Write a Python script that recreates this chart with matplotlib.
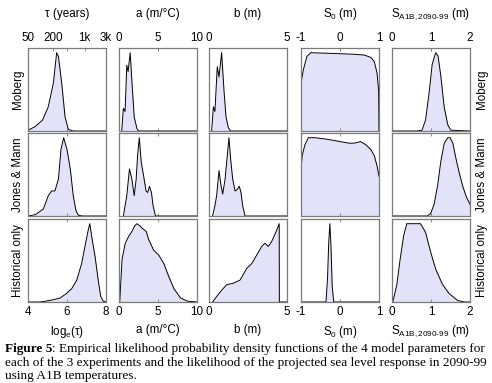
import matplotlib.pyplot as plt

plt.rcParams["font.family"] = ["Liberation Sans", "DejaVu Sans"]
plt.rcParams["mathtext.fontset"] = "custom"
plt.rcParams["mathtext.rm"] = "Liberation Sans"
plt.rcParams["mathtext.it"] = "Liberation Sans"

ROWS = ["Moberg", "Jones & Mann", "Historical only"]
TITLES = ["τ (years)", "a (m/°C)", "b (m)", "S$_0$ (m)",
          r"S$_{\mathrm{A1B,2090}\text{-}\mathrm{99}}$ (m)"]
XLABELS = ["log$_e$(τ)", "a (m/°C)", "b (m)", "S$_0$ (m)",
           r"S$_{\mathrm{A1B,2090}\text{-}\mathrm{99}}$ (m)"]
XLIMS = [(4, 8), (0, 10), (0, 5), (-1, 1), (0, 2)]
BOTTOM_TICKS = [[4, 6, 8], [0, 5, 10], [0, 5], [-1, 0, 1], [0, 1, 2]]
# top axis of the first column is in years (ln 50 ~ 4, ln 3000 ~ 8)
TAU_TOP_TICKS = [4.0, 5.30, 6.91, 8.0]
TAU_TOP_LABELS = ["50", "200", "1k", "3k"]

# --- Moberg ---
TAU_MOB_X = [4.0, 4.36, 4.75, 5.04, 5.30, 5.47, 5.56, 5.73, 5.90, 6.07, 6.32, 8.0]
TAU_MOB_Y = [0.01, 0.055, 0.14, 0.31, 0.61, 1.0, 0.95, 0.61, 0.18, 0.02, 0.0, 0.0]
A_MOB_X = [0.35, 0.56, 0.78, 1.0, 1.17, 1.43, 1.73, 1.95, 2.3, 2.5, 10.0]
A_MOB_Y = [0.0, 0.29, 0.25, 0.84, 0.76, 1.0, 0.52, 0.18, 0.03, 0.0, 0.0]
B_MOB_X = [0.17, 0.28, 0.38, 0.53, 0.64, 0.81, 0.96, 1.09, 1.24, 1.39, 5.0]
B_MOB_Y = [0.0, 0.31, 0.25, 0.82, 0.69, 1.0, 0.52, 0.18, 0.04, 0.0, 0.0]
S0_MOB_X = [-1.0, -0.94, -0.85, -0.75, -0.16, 0.36, 0.62, 0.79, 0.88, 0.95, 0.99, 1.0]
S0_MOB_Y = [0.61, 0.78, 0.95, 1.0, 0.99, 0.98, 0.97, 0.94, 0.885, 0.74, 0.52, 0.0]
SA_MOB_X = [0.0, 0.64, 0.77, 0.86, 0.95, 1.03, 1.12, 1.18, 1.25, 1.34, 1.43, 1.51, 2.0]
SA_MOB_Y = [0.0, 0.0, 0.01, 0.14, 0.48, 0.85, 1.0, 0.96, 0.71, 0.30, 0.08, 0.01, 0.0]

# --- Jones & Mann ---
TAU_JM_X = [4.0, 4.38, 4.79, 5.04, 5.21, 5.38, 5.56, 5.69, 5.83, 6.0, 6.17, 6.32, 6.46, 6.58, 6.8, 8.0]
TAU_JM_Y = [0.0, 0.017, 0.09, 0.26, 0.32, 0.32, 0.47, 0.85, 1.0, 0.85, 0.6, 0.26, 0.07, 0.01, 0.0, 0.0]
A_JM_X = [0.56, 1.0, 1.34, 1.65, 1.95, 2.2, 2.38, 2.6, 2.86, 3.16, 3.46, 3.68, 3.9, 4.16, 4.37, 4.68, 10.0]
A_JM_Y = [0.0, 0.26, 0.6, 0.47, 0.26, 0.47, 0.77, 1.0, 0.68, 0.51, 0.32, 0.30, 0.38, 0.30, 0.13, 0.0, 0.0]
B_JM_X = [0.23, 0.38, 0.49, 0.64, 0.77, 0.88, 1.03, 1.13, 1.28, 1.39, 1.52, 1.67, 1.81, 1.94, 2.05, 2.16, 2.31, 5.0]
B_JM_Y = [0.0, 0.13, 0.26, 0.58, 0.39, 0.28, 0.47, 0.68, 1.0, 0.72, 0.47, 0.32, 0.34, 0.38, 0.30, 0.13, 0.0, 0.0]
S0_JM_X = [-1.0, -0.97, -0.9, -0.81, -0.64, -0.33, 0.01, 0.23, 0.36, 0.53, 0.66, 0.79, 0.88, 0.95, 1.0]
S0_JM_Y = [0.6, 0.77, 0.91, 1.0, 1.0, 0.98, 0.95, 0.93, 0.93, 0.95, 0.91, 0.85, 0.77, 0.64, 0.51]
SA_JM_X = [0.0, 0.9, 0.99, 1.08, 1.17, 1.25, 1.34, 1.43, 1.49, 1.56, 1.65, 1.74, 1.82, 1.91, 2.0]
SA_JM_Y = [0.0, 0.0, 0.03, 0.15, 0.39, 0.69, 0.93, 1.0, 1.0, 0.93, 0.71, 0.52, 0.37, 0.24, 0.15]

# --- Historical only ---
TAU_HI_X = [4.0, 4.62, 5.13, 5.64, 5.98, 6.24, 6.5, 6.75, 6.92, 7.09, 7.17, 7.27, 7.44, 7.6, 7.73, 7.86, 8.0]
TAU_HI_Y = [0.0, 0.0, 0.02, 0.05, 0.11, 0.17, 0.28, 0.49, 0.71, 0.92, 1.0, 0.83, 0.58, 0.28, 0.07, 0.01, 0.0]
A_HI_X = [0.1, 0.2, 0.4, 0.8, 1.2, 1.65, 2.0, 2.3, 2.7, 3.0, 3.5, 3.8, 4.45, 5.1, 5.75, 6.4, 7.05, 7.9, 8.8, 10.0]
A_HI_Y = [0.0, 0.2, 0.55, 0.75, 0.83, 0.9, 0.97, 1.0, 0.97, 0.94, 0.9, 0.8, 0.66, 0.6, 0.49, 0.32, 0.17, 0.05, 0.01, 0.0]
B_HI_X = [0.23, 0.49, 0.81, 1.13, 1.56, 1.99, 2.42, 2.74, 3.06, 3.38, 3.59, 3.8, 4.01, 4.22, 4.4, 4.5, 4.51, 5.0]
B_HI_Y = [0.0, 0.07, 0.15, 0.22, 0.24, 0.28, 0.43, 0.49, 0.6, 0.71, 0.75, 0.71, 0.77, 0.86, 0.95, 1.0, 0.0, 0.0]
S0_HI_X = [-1.0, -0.36, -0.32, -0.29, -0.26, -0.23, -0.2, -0.16, 1.0]
S0_HI_Y = [0.0, 0.0, 0.3, 0.75, 1.0, 0.7, 0.2, 0.0, 0.0]
SA_HI_X = [0.02, 0.12, 0.21, 0.3, 0.38, 0.55, 0.73, 0.86, 0.99, 1.12, 1.29, 1.46, 1.68, 1.85, 2.0]
SA_HI_Y = [0.0, 0.21, 0.55, 0.85, 1.0, 1.0, 1.0, 0.89, 0.64, 0.42, 0.23, 0.11, 0.02, 0.0, 0.0]

CURVES = [
    [(TAU_MOB_X, TAU_MOB_Y), (A_MOB_X, A_MOB_Y), (B_MOB_X, B_MOB_Y), (S0_MOB_X, S0_MOB_Y), (SA_MOB_X, SA_MOB_Y)],
    [(TAU_JM_X, TAU_JM_Y), (A_JM_X, A_JM_Y), (B_JM_X, B_JM_Y), (S0_JM_X, S0_JM_Y), (SA_JM_X, SA_JM_Y)],
    [(TAU_HI_X, TAU_HI_Y), (A_HI_X, A_HI_Y), (B_HI_X, B_HI_Y), (S0_HI_X, S0_HI_Y), (SA_HI_X, SA_HI_Y)],
]

FILL = "#e2e2f8"
FRAME = "#7a7a7a"

W, H = 492, 383
fig = plt.figure(figsize=(W / 100, H / 100), dpi=100)

col_left = [28, 119, 209, 301, 392]
col_w = 78
row_top = [48, 133, 219]
row_h = 83
fs = 8.4

for i in range(3):
    for j in range(5):
        ax = fig.add_axes([col_left[j] / W, 1 - (row_top[i] + row_h) / H, col_w / W, row_h / H])
        x, y = CURVES[i][j]
        ax.fill_between(x, y, 0, color=FILL, lw=0)
        ax.plot(x, y, color="black", lw=0.7)
        ax.set_xlim(*XLIMS[j])
        ax.set_ylim(0, 1.06)
        ax.set_yticks([])
        for s in ax.spines.values():
            s.set_color(FRAME)
            s.set_linewidth(0.9)
        ax.tick_params(axis="x", direction="in", length=2, width=0.6, color=FRAME,
                       top=True, bottom=True, labelsize=fs, pad=3)
        ax.set_xticks(BOTTOM_TICKS[j])
        if i == 2:
            ax.set_xticklabels([f"{t:g}" for t in BOTTOM_TICKS[j]])
            ax.set_xlabel(XLABELS[j], fontsize=fs, labelpad=4)
        else:
            ax.set_xticklabels([])
        if i == 0:
            top = ax.secondary_xaxis("top")
            if j == 0:
                top.set_xticks(TAU_TOP_TICKS)
                top.set_xticklabels(TAU_TOP_LABELS)
            else:
                top.set_xticks(BOTTOM_TICKS[j])
                top.set_xticklabels([f"{t:g}" for t in BOTTOM_TICKS[j]])
            top.tick_params(direction="in", length=2, width=0.6, color=FRAME,
                            labelsize=fs, pad=3)
            top.spines["top"].set_visible(False)
            top.set_xlabel(TITLES[j], fontsize=fs, labelpad=11)
        if j == 0:
            ax.set_ylabel(ROWS[i], fontsize=fs, labelpad=3)
        if j == 4:
            ax.yaxis.set_label_position("right")
            ax.set_ylabel(ROWS[i], fontsize=fs, labelpad=4)

# caption (serif, first words bold)
cap = fig.add_axes([0, 0, 1, 1])
cap.axis("off")
cfs = 9.5
t0 = cap.text(0.010, 1 - 352 / H, "Figure 5", fontsize=cfs, fontweight="bold",
              family="Liberation Serif", va="baseline")
cap.annotate(": Empirical likelihood probability density functions of the 4 model parameters for",
             xy=(1, 0), xycoords=t0, va="bottom", fontsize=cfs, family="Liberation Serif")
cap.text(0.010, 1 - 366 / H,
         "each of the 3 experiments and the likelihood of the projected sea level response in 2090-99",
         fontsize=cfs, family="Liberation Serif", va="baseline")
cap.text(0.010, 1 - 379 / H, "using A1B temperatures.",
         fontsize=cfs, family="Liberation Serif", va="baseline")

fig.savefig("out.png", dpi=100)
